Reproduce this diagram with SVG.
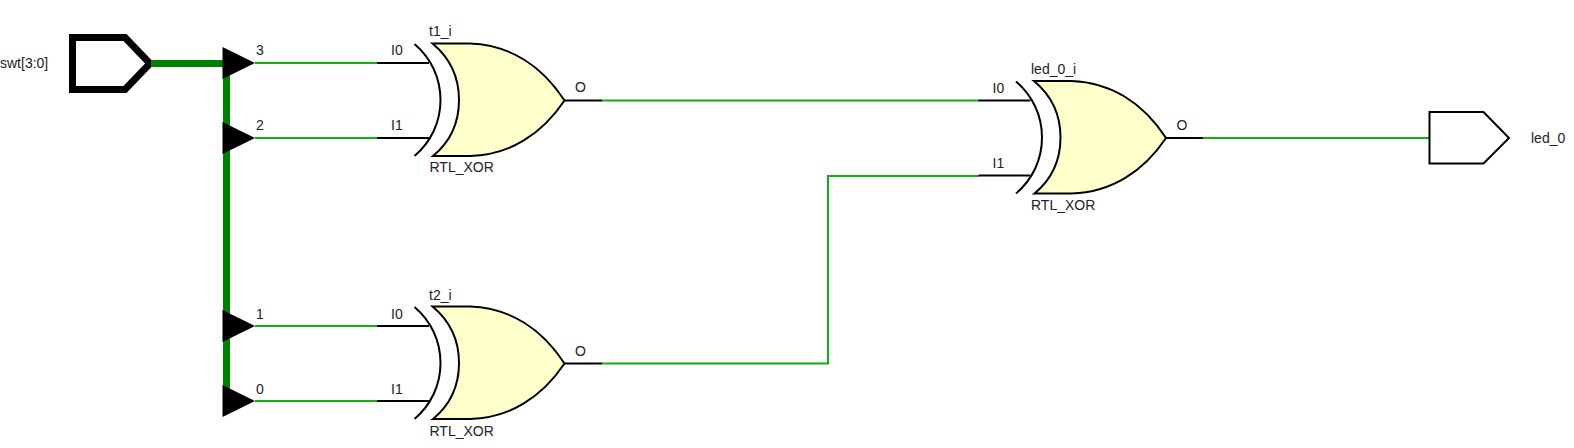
<svg xmlns="http://www.w3.org/2000/svg" width="1574" height="448" viewBox="0 0 1574 448">
<style>
text{font-family:"Liberation Sans",Arial,sans-serif;font-size:14px;fill:#222}
.w{fill:none;stroke:#10b010;stroke-width:2}
.b{fill:none;stroke:#000;stroke-width:2}
.bus{fill:none;stroke:#008000;stroke-width:7}
.tri{fill:#000}
.body{fill:#ffffcc;stroke:#000;stroke-width:2}
.arc{fill:none;stroke:#000;stroke-width:2}
</style>
<defs>
<g id="xor">
<path class="arc" d="M414.500 44C431 58 440.500 78 440.500 100C440.500 122 431 142 414.500 156"/>
<path class="body" d="M432.500 43.500H470C510 45 542 66 564.500 100.500C542 134 510 155 470 156H433C450 142 459 122 459 100C459 78 450 58 432.500 43.500Z"/>
<path class="b" d="M377 63H429M377 138H429M564 100.500H602"/>
</g>
<g id="xorlabels">
<text x="391" y="55">I0</text>
<text x="391" y="130">I1</text>
<text x="575" y="92">O</text>
<text x="429.500" y="172">RTL_XOR</text>
</g>
</defs>
<g id="swt">
<path d="M72.500 37.500H125L150 63.500L125 89.500H72.500Z" fill="#fff" stroke="#000" stroke-width="7"/>
<text x="0" y="68">swt[3:0]</text>
</g>
<g id="connectors">
<path class="bus" d="M151 63.500H226.500V400"/>
<path class="w" d="M255 63H377M255 138H377M255 326H377M255 401H377"/>
<path class="w" d="M602 100.500H979M602 363.500H828V176H979M1204 138H1429"/>
</g>
<g id="ripper">
<path class="tri" d="M222.500 47L255 63L222.500 79ZM222.500 122L255 138L222.500 154ZM222.500 310L255 326L222.500 342ZM222.500 385L255 401L222.500 417Z"/>
<text x="256" y="55">3</text>
<text x="256" y="130">2</text>
<text x="256" y="319">1</text>
<text x="256" y="394">0</text>
</g>
<g id="t1_i"><use href="#xor"/><use href="#xorlabels"/><text x="429" y="36">t1_i</text></g>
<g id="t2_i"><use href="#xor" y="263"/><use href="#xorlabels" y="264"/><text x="429" y="300">t2_i</text></g>
<g id="led_0_i"><use href="#xor" x="601.500" y="37.500"/><use href="#xorlabels" x="601.500" y="37.500"/><text x="1031" y="74">led_0_i</text></g>
<g id="led_0">
<path d="M1429.500 112H1483.500L1509 138L1483.500 163.500H1429.500Z" fill="#fff" stroke="#000" stroke-width="2"/>
<text x="1531" y="143">led_0</text>
</g>
</svg>
